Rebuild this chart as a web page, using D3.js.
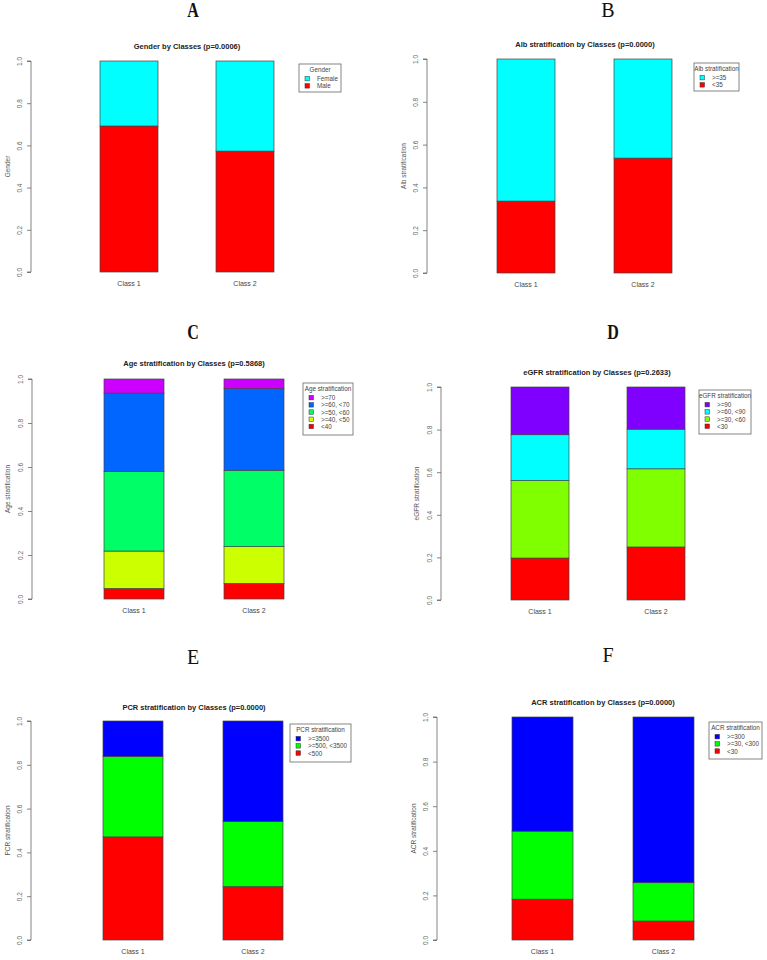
<!DOCTYPE html>
<html>
<head>
<meta charset="utf-8">
<script src="https://cdn.jsdelivr.net/npm/d3@7"></script>
<style>
  body { margin: 0; background: #fff; }
  svg { display: block; }
  text { font-family: "Liberation Sans", Arial, sans-serif; fill: #333; }
</style>
</head>
<body>
<div id="chart"></div>
<script>
// categories on the x axis
var classes = ["Class 1", "Class 2"];

// R rainbow() palettes
var rainbow2 = ["#FF0000", "#00FFFF"];
var rainbow3 = ["#FF0000", "#00FF00", "#0000FF"];
var rainbow4 = ["#FF0000", "#80FF00", "#00FFFF", "#8000FF"];
var rainbow5 = ["#FF0000", "#CCFF00", "#00FF66", "#0066FF", "#CC00FF"];

// A: gender (levels bottom -> top)
var genderLevels = ["Male", "Female"];
var genderMale   = [0.692, 0.573];
var genderFemale = [0.308, 0.427];

// B: albumin
var albLevels = ["<35", ">=35"];
var albLow  = [0.336, 0.537];
var albHigh = [0.664, 0.463];

// C: age
var ageLevels = ["<40", ">=40, <50", ">=50, <60", ">=60, <70", ">=70"];
var ageLt40   = [0.048, 0.071];
var age40to50 = [0.170, 0.167];
var age50to60 = [0.361, 0.347];
var age60to70 = [0.357, 0.371];
var ageGe70   = [0.064, 0.044];

// D: eGFR
var egfrLevels = ["<30", ">=30, <60", ">=60, <90", ">=90"];
var egfrLt30   = [0.197, 0.249];
var egfr30to60 = [0.364, 0.367];
var egfr60to90 = [0.215, 0.186];
var egfrGe90   = [0.224, 0.198];

// E: PCR
var pcrLevels = ["<500", ">=500, <3500", ">=3500"];
var pcrLt500  = [0.471, 0.244];
var pcrMid    = [0.367, 0.297];
var pcrGe3500 = [0.162, 0.459];

// F: ACR
var acrLevels = ["<30", ">=30, <300", ">=300"];
var acrLt30   = [0.183, 0.085];
var acrMid    = [0.305, 0.172];
var acrGe300  = [0.512, 0.743];

var yTicks = [0, 0.2, 0.4, 0.6, 0.8, 1.0];

var panels = [
  { letter: "A", condensed: true, title: "Gender by Classes (p=0.0006)", ylab: "Gender",
    legendTitle: "Gender", levels: genderLevels, colors: rainbow2,
    series: [genderMale, genderFemale],
    ax: 31, yTop: 61, yBot: 272, b1: 100, b2: 216, bw: 58,
    tx: 187, ty: 49, lx: 193, ly: 17, ylx: 7,
    leg: { x: 299, y: 64, w: 42, h: 28 } },
  { letter: "B", condensed: false, title: "Alb stratification by Classes (p=0.0000)", ylab: "Alb stratification",
    legendTitle: "Alb stratification", levels: albLevels, colors: rainbow2,
    series: [albLow, albHigh],
    ax: 427, yTop: 59, yBot: 273, b1: 497, b2: 614, bw: 58,
    tx: 585, ty: 47, lx: 608, ly: 17, ylx: 403,
    leg: { x: 694, y: 63, w: 45, h: 28 } },
  { letter: "C", condensed: true, title: "Age stratification by Classes (p=0.5868)", ylab: "Age stratification",
    legendTitle: "Age stratification", levels: ageLevels, colors: rainbow5,
    series: [ageLt40, age40to50, age50to60, age60to70, ageGe70],
    ax: 32, yTop: 379, yBot: 599, b1: 104, b2: 224, bw: 60,
    tx: 194, ty: 366, lx: 193, ly: 339, ylx: 7,
    leg: { x: 303, y: 383, w: 50, h: 52 } },
  { letter: "D", condensed: true, title: "eGFR stratification by Classes (p=0.2633)", ylab: "eGFR stratification",
    legendTitle: "eGFR stratification", levels: egfrLevels, colors: rainbow4,
    series: [egfrLt30, egfr30to60, egfr60to90, egfrGe90],
    ax: 441, yTop: 387, yBot: 600, b1: 511, b2: 627, bw: 58,
    tx: 597, ty: 375, lx: 613, ly: 339, ylx: 416,
    leg: { x: 699, y: 390, w: 52, h: 44 } },
  { letter: "E", condensed: false, title: "PCR stratification by Classes (p=0.0000)", ylab: "PCR stratification",
    legendTitle: "PCR stratification", levels: pcrLevels, colors: rainbow3,
    series: [pcrLt500, pcrMid, pcrGe3500],
    ax: 31, yTop: 721, yBot: 940, b1: 103, b2: 223, bw: 60,
    tx: 194, ty: 710, lx: 193, ly: 664, ylx: 7,
    leg: { x: 290, y: 724, w: 61, h: 38 } },
  { letter: "F", condensed: false, title: "ACR stratification by Classes (p=0.0000)", ylab: "ACR stratification",
    legendTitle: "ACR stratification", levels: acrLevels, colors: rainbow3,
    series: [acrLt30, acrMid, acrGe300],
    ax: 437, yTop: 717, yBot: 940, b1: 512, b2: 633, bw: 61,
    tx: 603, ty: 705, lx: 608, ly: 662, ylx: 413,
    leg: { x: 709, y: 722, w: 53, h: 37 } }
];

var svg = d3.select("#chart").append("svg")
    .attr("width", 767)
    .attr("height", 960);

panels.forEach(function(p) {
  var g = svg.append("g");

  // x band scale so that bars land on b1 / b2 with width bw
  var step = p.b2 - p.b1,
      pad = 1 - p.bw / step,
      r0 = p.b1 - step * pad,
      r1 = r0 + step * (classes.length - pad + 2 * pad);
  var xScale = d3.scaleBand().domain(classes).range([r0, r1])
      .paddingInner(pad).paddingOuter(pad);
  var yScale = d3.scaleLinear().domain([0, 1]).range([p.yBot, p.yTop]);

  // stack the series
  var rows = classes.map(function(c, i) {
    var r = { cls: c };
    p.levels.forEach(function(l, k) { r[l] = p.series[k][i]; });
    return r;
  });
  var stacked = d3.stack().keys(p.levels)(rows);

  g.selectAll("g.layer")
    .data(stacked)
    .enter().append("g")
      .attr("class", "layer")
      .attr("fill", function(d, k) { return p.colors[k]; })
    .selectAll("rect")
    .data(function(d) { return d; })
    .enter().append("rect")
      .attr("x", function(d) { return xScale(d.data.cls); })
      .attr("width", xScale.bandwidth())
      .attr("y", function(d) { return yScale(Math.min(d[1], 1)); })
      .attr("height", function(d) { return yScale(d[0]) - yScale(Math.min(d[1], 1)); })
      .attr("stroke", "#444")
      .attr("stroke-width", 0.7);

  // y axis
  var yAxis = d3.axisLeft(yScale).tickValues(yTicks).tickSize(4)
      .tickFormat(d3.format(".1f"));
  var yAxisG = g.append("g")
      .attr("transform", "translate(" + p.ax + ",0)")
      .call(yAxis);
  yAxisG.select(".domain").attr("stroke", "#666").attr("stroke-width", 0.8)
      .attr("d", "M-4," + p.yBot + "H0V" + p.yTop + "H-4");
  yAxisG.selectAll(".tick line").attr("stroke", "#666").attr("stroke-width", 0.8);
  yAxisG.selectAll(".tick text")
      .attr("x", 0).attr("y", 0).attr("dy", 0)
      .attr("transform", "translate(-9,0) rotate(-90)")
      .style("text-anchor", "middle")
      .style("font-size", "6.5px")
      .style("fill", "#666")
      .style("font-family", "Liberation Sans, Arial, sans-serif");

  // x labels
  classes.forEach(function(c) {
    g.append("text")
      .attr("x", xScale(c) + xScale.bandwidth() / 2)
      .attr("y", p.yBot + 14)
      .style("text-anchor", "middle")
      .style("font-size", "7px")
      .style("fill", "#444")
      .text(c);
  });

  // y axis title
  g.append("text")
    .attr("transform", "translate(" + (p.ylx + 2.5) + "," + ((p.yTop + p.yBot) / 2) + ") rotate(-90)")
    .style("text-anchor", "middle")
    .style("font-size", "6.5px")
    .style("fill", "#555")
    .text(p.ylab);

  // plot title
  g.append("text")
    .attr("x", p.tx).attr("y", p.ty)
    .style("text-anchor", "middle")
    .style("font-size", "7.5px")
    .style("font-weight", "bold")
    .style("fill", "#222")
    .text(p.title);

  // panel letter
  g.append("text")
    .attr("transform", "translate(" + p.lx + "," + p.ly + ")" + (p.condensed ? " scale(0.8,1)" : ""))
    .style("text-anchor", "middle")
    .style("font-family", "Liberation Serif, Times New Roman, serif")
    .style("font-size", "20px")
    .style("font-weight", p.condensed ? "bold" : "normal")
    .style("fill", "#111")
    .text(p.letter);

  // legend (top level first, as in R)
  var leg = g.append("g").attr("transform", "translate(" + p.leg.x + "," + p.leg.y + ")");
  leg.append("rect")
    .attr("width", p.leg.w).attr("height", p.leg.h)
    .attr("fill", "#fff").attr("stroke", "#666").attr("stroke-width", 0.8);
  leg.append("text")
    .attr("x", p.leg.w / 2).attr("y", 7.5)
    .style("text-anchor", "middle")
    .style("font-size", "6.3px")
    .style("fill", "#444")
    .text(p.legendTitle);
  var items = p.levels.map(function(l, k) { return { label: l, color: p.colors[k] }; }).reverse();
  var li = leg.selectAll("g.item").data(items).enter().append("g")
    .attr("class", "item")
    .attr("transform", function(d, i) { return "translate(0," + (15 + i * 7.2) + ")"; });
  li.append("rect")
    .attr("x", 6).attr("y", -2.6).attr("width", 4.5).attr("height", 4.5)
    .attr("fill", function(d) { return d.color; })
    .attr("stroke", "#333").attr("stroke-width", 0.5);
  li.append("text")
    .attr("x", 18).attr("y", 2.2)
    .style("font-size", "6.3px")
    .style("fill", "#444")
    .text(function(d) { return d.label; });
});
</script>
</body>
</html>
